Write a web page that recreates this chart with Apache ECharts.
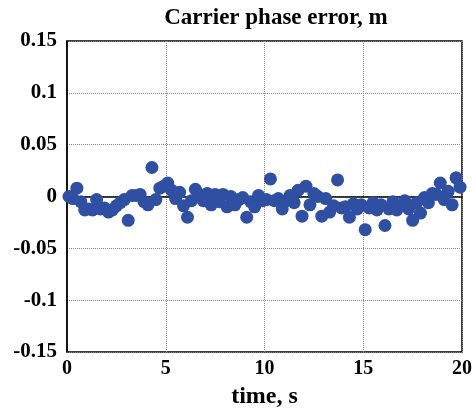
<!DOCTYPE html>
<html><head><meta charset="utf-8">
<script src="https://cdn.jsdelivr.net/npm/echarts@6/dist/echarts.min.js"></script>
<style>html,body{margin:0;padding:0;background:#fff}#c{width:472px;height:408px}</style>
</head><body><div id="c"></div>
<script>
var timeS = [0.1,0.3,0.5,0.7,0.9,1.1,1.3,1.5,1.7,1.9,2.1,2.3,2.5,2.7,2.9,3.1,3.3,3.5,3.7,3.9,4.1,4.3,4.5,4.7,4.9,5.1,5.3,5.5,5.7,5.9,6.1,6.3,6.5,6.7,6.9,7.1,7.3,7.5,7.7,7.9,8.1,8.3,8.5,8.7,8.9,9.1,9.3,9.5,9.7,9.9,10.1,10.3,10.5,10.7,10.9,11.1,11.3,11.5,11.7,11.9,12.1,12.3,12.5,12.7,12.9,13.1,13.3,13.5,13.7,13.9,14.1,14.3,14.5,14.7,14.9,15.1,15.3,15.5,15.7,15.9,16.1,16.3,16.5,16.7,16.9,17.1,17.3,17.5,17.7,17.9,18.1,18.3,18.5,18.7,18.9,19.1,19.3,19.5,19.7,19.9];
var phaseErr = [0,-0.002,0.008,-0.005,-0.013,-0.012,-0.013,-0.003,-0.012,-0.011,-0.015,-0.013,-0.009,-0.006,-0.003,-0.023,0.001,0.001,0.002,-0.005,-0.008,0.028,-0.003,0.008,0.01,0.013,0.006,-0.002,0.004,-0.009,-0.02,-0.004,0.007,0.002,-0.004,0.003,-0.008,0.002,-0.005,0.002,-0.01,0,-0.008,-0.003,-0.001,-0.02,-0.005,-0.01,0.001,-0.004,-0.003,0.017,-0.004,-0.002,-0.012,-0.004,0.001,-0.006,0.006,-0.019,0.01,-0.008,0.003,0,-0.019,-0.002,-0.015,-0.009,0.016,-0.011,-0.01,-0.02,-0.007,-0.012,-0.008,-0.032,-0.011,-0.006,-0.013,-0.008,-0.028,-0.012,-0.005,-0.013,-0.009,-0.004,-0.012,-0.023,-0.006,-0.016,-0.001,-0.006,0.003,0.002,0.013,-0.003,0.005,-0.008,0.018,0.009];
var xTicks = [0,5,10,15,20];
var yTicks = [-0.15,-0.1,-0.05,0,0.05,0.1,0.15];
var font = '"Liberation Serif","Times New Roman",serif';
var data = timeS.map(function(t,i){return [t, phaseErr[i]];});
var chart = echarts.init(document.getElementById('c'));
chart.setOption({
  animation:false,
  title:{text:'Carrier phase error, m',left:271,top:2,textAlign:'center',
    textStyle:{fontFamily:font,fontWeight:'bold',fontSize:23,color:'#000'}},
  grid:{left:67,right:10,top:41,bottom:56,show:true,borderColor:'#000',borderWidth:1.5,backgroundColor:'#fff',
    outerBoundsMode:'none',containLabel:false},
  xAxis:{type:'value',min:0,max:20,interval:5,
    name:'time, s',nameLocation:'middle',nameGap:33,
    nameTextStyle:{fontFamily:font,fontWeight:'bold',fontSize:24,color:'#000'},
    axisLine:{show:true,lineStyle:{color:'#000',width:1.5}},
    axisTick:{show:false},
    axisLabel:{fontFamily:font,fontWeight:'bold',fontSize:20,color:'#000',margin:7,
      formatter:function(v){return xTicks.indexOf(v)>=0?String(v):'';}},
    splitLine:{show:true,lineStyle:{color:'#888',type:[1,1],width:1}}},
  yAxis:{type:'value',min:-0.15,max:0.15,interval:0.05,
    axisLine:{show:true,lineStyle:{color:'#000',width:1.5}},
    axisTick:{show:false},
    axisLabel:{fontFamily:font,fontWeight:'bold',fontSize:21,color:'#000',margin:10,
      formatter:function(v){var r=Math.round(v*100)/100; if(Math.abs(r)<1e-9) return '0'; return String(r);}},
    splitLine:{show:true,lineStyle:{color:'#888',type:[1,1],width:1}}},
  series:[{type:'scatter',data:data,symbol:'circle',symbolSize:13,
    itemStyle:{color:'#2f4fa3',opacity:1}}]
});
</script></body></html>
